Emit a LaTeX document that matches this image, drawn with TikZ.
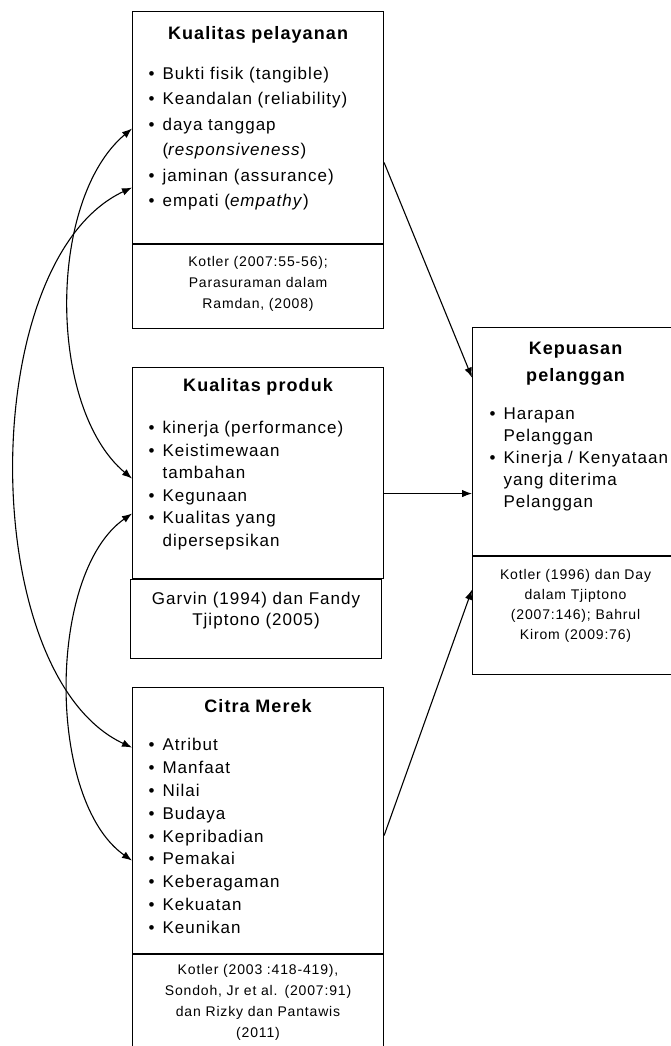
\documentclass[tikz,border=0pt]{standalone}
\usepackage{fontspec}
\setmainfont{Liberation Sans}[LetterSpace=6]
\usepackage{tikz}
\usetikzlibrary{positioning, arrows.meta}

\newcommand{\itembul}{\makebox[14pt][l]{\textbullet}}
\newcommand{\itemcont}{\hspace*{14pt}}
\newcommand{\boxhead}[1]{\makebox[\linewidth][c]{\fontsize{18}{22}\selectfont\bfseries #1}}

\begin{document}
\begin{tikzpicture}[x=1pt, y=1pt,
    mainbox/.style={draw, line width=1.1pt, anchor=north west, inner xsep=16pt,
      inner ysep=0pt, text width=219pt, align=left},
    refbox/.style={draw, line width=1.1pt, inner xsep=8pt, inner ysep=0pt,
      text width=235pt, align=center, font=\fontsize{14}{21}\selectfont},
    link/.style={line width=1.1pt, -{Latex[length=10pt, width=7.5pt]}},
    twoway/.style={line width=1.1pt, {Latex[length=10pt, width=7.5pt]}-{Latex[length=10pt, width=7.5pt]}}]
  \useasboundingbox (0,0) rectangle (671,-1046);

  % independent variables
  \node[mainbox, text height=28pt, text depth=204pt, font=\fontsize{17}{25.4}\selectfont]
    (pel) at (132,-11) {%
      \boxhead{Kualitas pelayanan}\\[14.6pt]
      \itembul Bukti fisik (tangible)\\
      \itembul Keandalan (reliability)\\
      \itembul daya tanggap\\
      \itemcont (\textit{responsiveness})\\
      \itembul jaminan (assurance)\\
      \itembul empati (\textit{empathy})};
  \node[refbox, below=0pt of pel, text height=22pt, text depth=62pt] (pelref)
    {Kotler (2007:55-56);\\ Parasuraman dalam\\ Ramdan, (2008)};

  \node[mainbox, text height=24pt, text depth=187pt, font=\fontsize{17}{22.6}\selectfont]
    (prod) at (132,-367) {%
      \boxhead{Kualitas produk}\\[19.4pt]
      \itembul kinerja (performance)\\
      \itembul Keistimewaan\\
      \itemcont tambahan\\
      \itembul Kegunaan\\
      \itembul Kualitas yang\\
      \itemcont dipersepsikan};
  \node[refbox, below=0pt of prod, xshift=-2pt, text height=25pt, text depth=54pt,
    font=\fontsize{17}{21}\selectfont] (prodref)
    {Garvin (1994) dan Fandy\\ Tjiptono (2005)};

  \node[mainbox, text height=25pt, text depth=241pt, font=\fontsize{17}{22.9}\selectfont]
    (citra) at (132,-687) {%
      \boxhead{Citra Merek}\\[15pt]
      \itembul Atribut\\
      \itembul Manfaat\\
      \itembul Nilai\\
      \itembul Budaya\\
      \itembul Kepribadian\\
      \itembul Pemakai\\
      \itembul Keberagaman\\
      \itembul Kekuatan\\
      \itembul Keunikan};
  \node[refbox, below=0pt of citra, text height=20pt, text depth=97pt] (citraref)
    {Kotler (2003 :418-419),\\ Sondoh, Jr et al. (2007:91)\\ dan Rizky dan Pantawis\\ (2011)};

  % dependent variable
  \node[mainbox, inner xsep=17pt, text width=172pt, text height=27pt, text depth=201pt,
    font=\fontsize{17}{22}\selectfont] (kep) at (472,-327) {%
      \boxhead{Kepuasan}\\[5pt]
      \boxhead{pelanggan}\\[16pt]
      \itembul Harapan\\
      \itemcont Pelanggan\\
      \itembul \mbox{Kinerja / Kenyataan}\\
      \itemcont yang diterima\\
      \itemcont Pelanggan};
  \node[refbox, below=0pt of kep, text width=190pt, text height=23pt, text depth=95pt,
    font=\fontsize{14}{20}\selectfont] (kepref)
    {Kotler (1996) dan Day\\ dalam Tjiptono\\ (2007:146); Bahrul\\ Kirom (2009:76)};

  \draw[link] ([yshift=-35pt]pel.east) -- ([yshift=64pt]kep.west);
  \draw[link] ([yshift=-20.5pt]prod.east) -- ([yshift=-52pt]kep.west);
  \draw[link] ([yshift=-15pt]citra.east) -- ([yshift=26pt]kepref.west);

  \draw[twoway] ([yshift=-1pt]pel.west) to[out=220, in=140, looseness=0.81] ([yshift=-5.5pt]prod.west);
  \draw[twoway] ([yshift=-60pt]pel.west) to[out=205, in=155, looseness=0.79] ([yshift=73pt]citra.west);
  \draw[twoway] ([yshift=-40.5pt]prod.west) to[out=215, in=145, looseness=0.77] ([yshift=-40pt]citra.west);
\end{tikzpicture}
\end{document}
